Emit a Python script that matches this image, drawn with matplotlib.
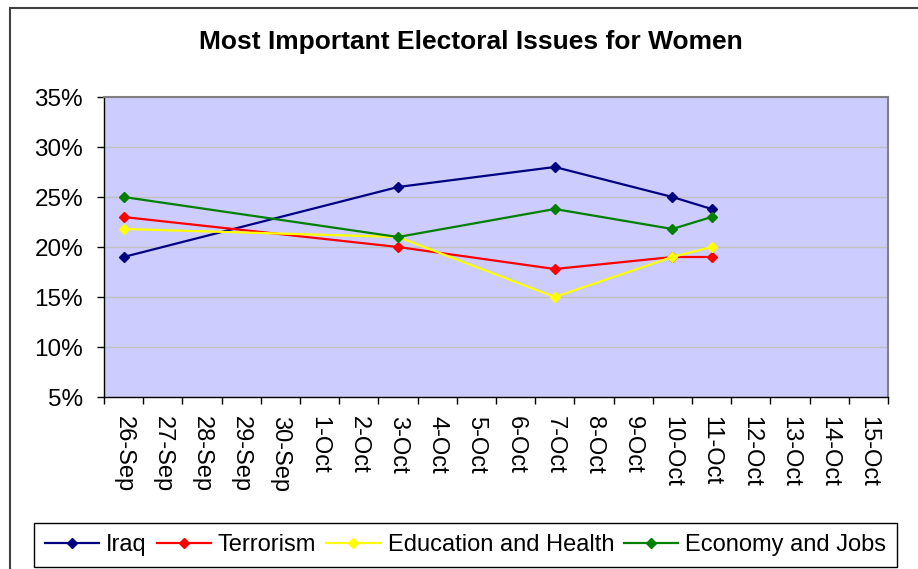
import numpy as np
import matplotlib as mpl
import matplotlib.pyplot as plt
from matplotlib.patches import Rectangle

mpl.use('Agg')
plt.rcParams['font.family'] = ['Liberation Sans', 'DejaVu Sans']

# category axis, one slot per day
days = ['26-Sep', '27-Sep', '28-Sep', '29-Sep', '30-Sep', '1-Oct', '2-Oct',
        '3-Oct', '4-Oct', '5-Oct', '6-Oct', '7-Oct', '8-Oct', '9-Oct',
        '10-Oct', '11-Oct', '12-Oct', '13-Oct', '14-Oct', '15-Oct']
poll_days = ['26-Sep', '3-Oct', '7-Oct', '10-Oct', '11-Oct']

iraq = [19, 26, 28, 25, 23.8]
terrorism = [23, 20, 17.8, 19, 19]
education = [21.8, 21, 15, 19, 20]
economy = [25, 21, 23.8, 21.8, 23]

series = [('Iraq', iraq, '#000080'),
          ('Terrorism', terrorism, '#FF0000'),
          ('Education and Health', education, '#FFFF00'),
          ('Economy and Jobs', economy, '#008000')]

fig = plt.figure(figsize=(9.18, 5.69), dpi=100)
ax = fig.add_axes([104/918, 1-397/569, 784/918, 300/569])
ax.set_facecolor('#CCCCFF')

x = [days.index(d) for d in poll_days]
for name, vals, col in series:
    ax.plot(x, vals, color=col, lw=1.6, marker='D', markersize=5.5,
            markeredgecolor=col, label=name, zorder=3)

ax.set_xlim(-0.5, len(days) - 0.5)
ax.set_ylim(5, 35)
ax.set_yticks(range(5, 36, 5))
ax.set_yticklabels([f'{v}%' for v in range(5, 36, 5)], fontsize=17.5)
ax.yaxis.grid(True, color='#C0C0C0', lw=1)
ax.set_axisbelow(True)

ax.set_xticks(np.arange(-0.5, len(days)))
ax.set_xticklabels([])
ax.set_xticks(range(len(days)), minor=True)
ax.set_xticklabels(days, minor=True, rotation=270, fontsize=17)
ax.tick_params(axis='x', which='minor', length=0, pad=14)
ax.tick_params(axis='both', which='major', direction='out', length=5,
               width=1, color='black')
ax.tick_params(axis='y', pad=10)

for s in ['top', 'right']:
    ax.spines[s].set_color('#808080')
    ax.spines[s].set_linewidth(1.5)
for s in ['left', 'bottom']:
    ax.spines[s].set_color('black')
    ax.spines[s].set_linewidth(1)

fig.text(471/918, 1-42/569, 'Most Important Electoral Issues for Women',
         ha='center', va='center', fontsize=19, fontweight='bold')

# outer chart frame, runs off the right and bottom edges
fig.patches.append(Rectangle((10/918, -0.1), 1.0, 1-8/569+0.1,
                             transform=fig.transFigure, fill=False,
                             edgecolor='#404040', lw=1.5))

leg = fig.legend(loc='center', ncol=4, mode='expand',
                 bbox_to_anchor=(34/918, 1/569, 863/918, 46/569),
                 borderaxespad=0, fontsize=17, handlelength=2.3,
                 handletextpad=0.3, columnspacing=0.6, borderpad=0.45,
                 fancybox=False, edgecolor='black', framealpha=1)
leg.get_frame().set_linewidth(1)

fig.savefig('out.png', dpi=100)
